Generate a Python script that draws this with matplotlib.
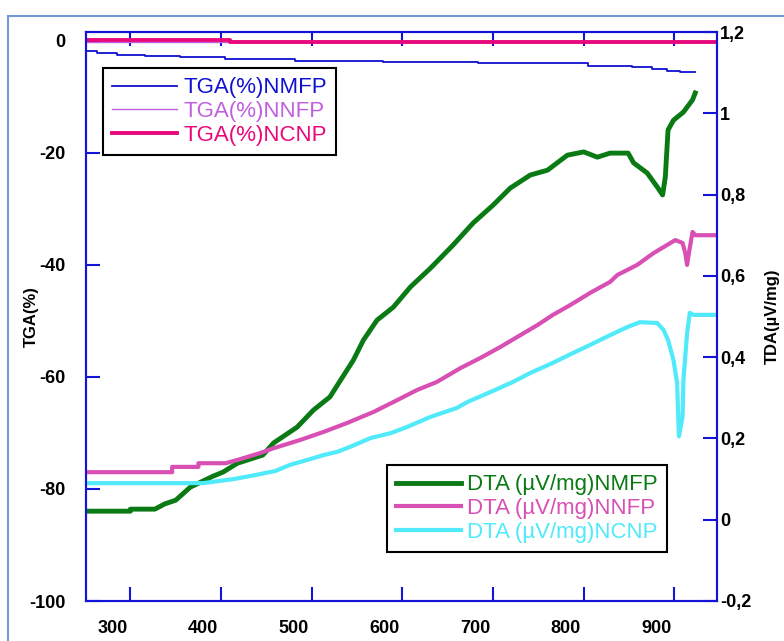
import matplotlib.pyplot as plt
from matplotlib.patches import Rectangle
from matplotlib.ticker import FixedLocator, FuncFormatter

plt.rcParams['font.family'] = ['Liberation Sans', 'DejaVu Sans']
plt.rcParams['axes.unicode_minus'] = False

# TGA curves (left axis, %)
tga_nmfp_x = [271, 283.5, 305.5, 336.4, 375, 424.6, 501.8, 598.9, 703.7, 825, 873.5, 895.5, 912.1, 926.4, 943]
tga_nmfp_y = [-1.73, -2.2, -2.5, -2.68, -2.91, -3.21, -3.57, -3.75, -3.98, -4.41, -4.70, -5.0, -5.3, -5.59, -5.59]
tga_nnfp_x = [271, 943]
tga_nnfp_y = [-0.2, -0.2]
tga_ncnp_x = [271, 430, 430, 967]
tga_ncnp_y = [0.1, 0.1, -0.15, -0.15]

# DTA curves (right axis, uV/mg)
dta_nmfp_x = [271, 320, 320, 347, 358, 370, 386, 411, 422, 438, 452, 466, 478, 504, 522,
              540, 552, 566, 577, 592, 610, 629, 651, 676, 698, 720, 739, 761, 780, 802,
              820, 835, 849, 869, 875, 890, 901, 907, 910, 913, 919, 930, 940, 943]
dta_nmfp_y = [0.021, 0.021, 0.026, 0.026, 0.039, 0.048, 0.080, 0.107, 0.117, 0.139, 0.149, 0.159, 0.189, 0.228, 0.270,
              0.302, 0.344, 0.393, 0.442, 0.491, 0.523, 0.573, 0.619, 0.676, 0.730, 0.774, 0.816, 0.848, 0.860, 0.897,
              0.905, 0.892, 0.902, 0.902, 0.878, 0.853, 0.819, 0.799, 0.843, 0.959, 0.983, 1.003, 1.033, 1.050]
dta_nnfp_x = [271, 366, 366, 395, 395, 425, 441, 463, 478, 507, 533, 559, 588, 614, 636, 658, 684,
              706, 728, 750, 769, 786, 805, 827, 849, 857, 879, 897, 912, 921, 929, 932, 934,
              936, 940, 943, 966]
dta_nnfp_y = [0.117, 0.117, 0.130, 0.130, 0.139, 0.139, 0.149, 0.164, 0.176, 0.196, 0.216, 0.238, 0.265, 0.294, 0.319, 0.339, 0.373,
              0.398, 0.425, 0.454, 0.479, 0.504, 0.528, 0.558, 0.585, 0.602, 0.627, 0.656, 0.676, 0.688, 0.681, 0.656, 0.627,
              0.656, 0.708, 0.700, 0.700]
dta_ncnp_x = [271, 400, 434, 458, 480, 496, 515, 533, 548, 562, 585, 607, 625, 651, 680, 692, 717,
              742, 761, 786, 808, 827, 849, 868, 882, 901, 908, 913, 919, 923, 925, 929, 930,
              934, 937, 941, 966]
dta_ncnp_y = [0.090, 0.090, 0.100, 0.110, 0.120, 0.135, 0.147, 0.159, 0.167, 0.179, 0.201, 0.213, 0.228, 0.253, 0.275, 0.290, 0.314,
              0.339, 0.361, 0.386, 0.410, 0.430, 0.454, 0.474, 0.486, 0.484, 0.467, 0.442, 0.393, 0.336, 0.205, 0.253, 0.344,
              0.459, 0.509, 0.504, 0.504]

x_labels = [300, 400, 500, 600, 700, 800, 900]
x_marks = [320, 420, 520, 620, 720, 820, 920]
tga_ticks = [-100, -80, -60, -40, -20, 0]
dta_ticks = [-0.2, 0, 0.2, 0.4, 0.6, 0.8, 1.0, 1.2]

spine_blue = '#1414d8'

fig = plt.figure(figsize=(7.84, 6.41), dpi=100)
fig.patches.append(Rectangle((8 / 784, -0.1), 1.2, 1 - 16 / 641 + 0.1, transform=fig.transFigure,
                             fill=False, edgecolor='#7099d6', linewidth=1.5))
ax = fig.add_axes([86 / 784, 1 - 601 / 641, (717 - 86) / 784, (601 - 32) / 641])
ax2 = ax.twinx()

l1, = ax.plot(tga_nmfp_x, tga_nmfp_y, color='#1010d0', lw=1.3, drawstyle='steps-post', label='TGA(%)NMFP')
l2, = ax.plot(tga_nnfp_x, tga_nnfp_y, color='#c060e0', lw=1.0, label='TGA(%)NNFP')
l3, = ax.plot(tga_ncnp_x, tga_ncnp_y, color='#e8087c', lw=2.8, label='TGA(%)NCNP')

d1, = ax2.plot(dta_nmfp_x, dta_nmfp_y, color='#0a7a14', lw=3.5, label='DTA (\u00b5V/mg)NMFP')
d2, = ax2.plot(dta_nnfp_x, dta_nnfp_y, color='#d850b4', lw=3.0, label='DTA (\u00b5V/mg)NNFP')
d3, = ax2.plot(dta_ncnp_x, dta_ncnp_y, color='#50eafa', lw=3.0, label='DTA (\u00b5V/mg)NCNP')

ax.set_xlim(271, 967)
ax.set_ylim(-100, 1.6)
ax2.set_ylim(-0.2, 1.2)

ax.xaxis.set_major_locator(FixedLocator(x_marks))
ax.xaxis.set_minor_locator(FixedLocator(x_labels))
ax.xaxis.set_major_formatter(FuncFormatter(lambda v, p: ''))
ax.xaxis.set_minor_formatter(FuncFormatter(lambda v, p: '%d' % v))
ax.tick_params(axis='x', which='major', direction='in', length=10, width=1.5, color=spine_blue, top=True)
ax.tick_params(axis='x', which='minor', length=0, pad=14, labelsize=13)
ax.set_yticks(tga_ticks)
ax.tick_params(axis='y', direction='in', length=10, width=1.5, color=spine_blue, pad=15, labelsize=13)
ax2.set_yticks(dta_ticks)
ax2.yaxis.set_major_formatter(FuncFormatter(lambda v, p: ('%g' % round(v, 1)).replace('.', ',')))
ax2.tick_params(axis='y', direction='in', length=10, width=1.5, color=spine_blue, pad=2, labelsize=13)

for lab in ax.get_xticklabels(minor=True) + ax.get_yticklabels() + ax2.get_yticklabels():
    lab.set_fontweight('bold')

for a in (ax, ax2):
    for s in a.spines.values():
        s.set_color(spine_blue)
        s.set_linewidth(1.5)

ax.set_ylabel('TGA(%)', fontsize=12, fontweight='bold')
ax.yaxis.set_label_coords((39 - 86) / 631, 0.5)
ax2.set_ylabel('TDA(\u00b5V/mg)', fontsize=12, fontweight='bold')
ax2.yaxis.set_label_coords((765 - 86) / 631, 0.5)

leg1 = ax.legend(handles=[l1, l2, l3], loc='upper left', bbox_to_anchor=(103 / 784, 1 - 68 / 641),
                 bbox_transform=fig.transFigure, fontsize=16, fancybox=False, framealpha=1,
                 edgecolor='black', handlelength=2.9, handletextpad=0.3, labelspacing=0.12,
                 borderpad=0.42, borderaxespad=0)
leg1.get_frame().set_linewidth(1.5)
for t, h in zip(leg1.get_texts(), [l1, l2, l3]):
    t.set_color(h.get_color())

leg2 = ax2.legend(handles=[d1, d2, d3], loc='upper left', bbox_to_anchor=(387 / 784, 1 - 465 / 641),
                  bbox_transform=fig.transFigure, fontsize=16, fancybox=False, framealpha=1,
                  edgecolor='black', handlelength=2.9, handletextpad=0.3, labelspacing=0.12,
                  borderpad=0.42, borderaxespad=0)
leg2.get_frame().set_linewidth(1.5)
for t, h in zip(leg2.get_texts(), [d1, d2, d3]):
    t.set_color(h.get_color())

fig.savefig('out.png', dpi=100)
